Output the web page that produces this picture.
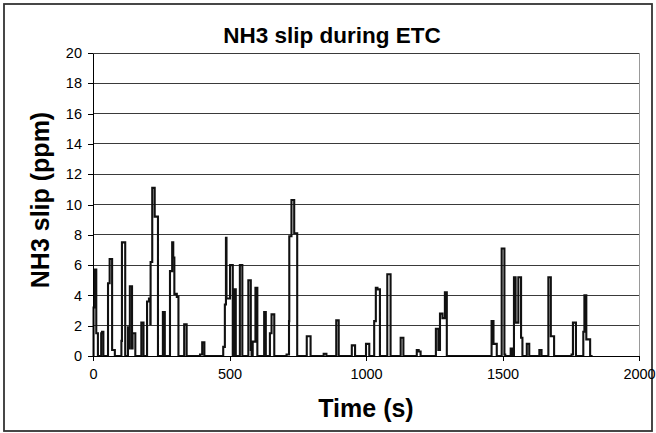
<!DOCTYPE html>
<html>
<head>
<meta charset="utf-8">
<script src="https://cdn.jsdelivr.net/npm/d3@7"></script>
<style>
body { margin: 0; background: #fff; }
text { font-family: "Liberation Sans", Arial, sans-serif; }
</style>
</head>
<body>
<div id="chart"></div>
<script>
// data (time in s, NH3 slip in ppm)
var time = [0, 2, 5, 12, 18, 30, 33, 38, 55, 61, 70, 80, 104, 106, 118,
    128, 133, 135, 143, 145, 155, 177, 185, 198, 205, 210, 211, 217, 226, 238,
    256, 263, 282, 290, 294, 298, 307, 313, 334, 343, 392, 400, 408,
    477, 483, 487, 489, 502, 512, 516, 523, 538, 547, 569, 578, 581,
    585, 595, 602, 627, 633, 648, 654, 664, 709, 718, 719, 727, 737, 748,
    783, 797, 845, 855, 891, 900, 948, 960, 1000, 1012,
    1030, 1036, 1042, 1051, 1078, 1090, 1127, 1137, 1186, 1193, 1200,
    1256, 1265, 1271, 1280, 1289, 1296, 1460, 1467, 1479, 1497, 1507, 1510,
    1530, 1537, 1542, 1548, 1558, 1568, 1573, 1589, 1598, 1635, 1643,
    1668, 1677, 1689, 1753, 1758, 1769, 1796, 1800, 1807, 1821, 1830];

var slip = [0, 3.2, 5.7, 1.5, 0, 1.5, 1.6, 0, 4.8, 6.4, 0.4, 0, 1.0, 7.5, 0,
    1.9, 0.5, 4.6, 0.5, 1.5, 0, 2.2, 0, 3.6, 3.8, 2.1, 6.2, 11.1, 9.2, 0,
    2.9, 0, 5.6, 7.5, 6.5, 4.1, 3.9, 0, 2.1, 0, 0.1, 0.9, 0,
    0.6, 3.4, 7.8, 3.8, 6.0, 0, 4.4, 0, 6.0, 0, 5.0, 0.4, 0,
    0.95, 4.5, 0, 2.9, 0, 1.5, 2.75, 0, 0.1, 2.3, 7.9, 10.3, 8.1, 0,
    1.3, 0, 0.15, 0, 2.35, 0, 0.7, 0, 0.8, 0,
    2.3, 4.5, 4.4, 0, 5.4, 0, 1.2, 0, 0.4, 0.3, 0,
    1.8, 0.4, 2.8, 2.5, 4.2, 0, 2.3, 0.8, 0, 7.1, 0.1, 0,
    0.5, 0, 5.2, 2.2, 5.2, 1.2, 0, 0.8, 0, 0.4, 0,
    5.2, 1.3, 0, 0.1, 2.2, 0, 1.6, 4.0, 1.1, 0, 0];

var xTicks = [0, 500, 1000, 1500, 2000];
var yTicks = [0, 2, 4, 6, 8, 10, 12, 14, 16, 18, 20];

var width = 656;
var height = 433;

var plotLeft = 93;
var plotRight = 639;
var plotTop = 53;
var plotBottom = 356;

var svg = d3
    .select("#chart")
    .append("svg")
    .attr("width", width)
    .attr("height", height);

// outer chart frame
svg
    .append("rect")
    .attr("x", 4)
    .attr("y", 4)
    .attr("width", 648)
    .attr("height", 427)
    .attr("fill", "#fff")
    .attr("stroke", "#333")
    .attr("stroke-width", 1.8);

var xScale = d3
    .scaleLinear()
    .domain([0, 2000])
    .range([plotLeft, plotRight]);

var yScale = d3
    .scaleLinear()
    .domain([0, 20])
    .range([plotBottom, plotTop]);

// gridlines
svg
    .append("g")
    .selectAll("line")
    .data(yTicks.slice(1))
    .enter()
    .append("line")
    .attr("x1", plotLeft)
    .attr("x2", plotRight)
    .attr("y1", function(d) { return yScale(d); })
    .attr("y2", function(d) { return yScale(d); })
    .attr("stroke", "#3a3a3a")
    .attr("stroke-width", 1)
    .attr("shape-rendering", "crispEdges");

// right side of the plot area
svg
    .append("line")
    .attr("x1", plotRight)
    .attr("x2", plotRight)
    .attr("y1", plotTop)
    .attr("y2", plotBottom)
    .attr("stroke", "#999")
    .attr("shape-rendering", "crispEdges");

// the series
var points = time.map(function(t, i) {
    return [t, slip[i]];
});

var line = d3
    .line()
    .x(function(d) { return xScale(d[0]); })
    .y(function(d) { return yScale(d[1]); })
    .curve(d3.curveStepAfter);

svg
    .append("path")
    .datum(points)
    .attr("d", line)
    .attr("fill", "none")
    .attr("stroke", "#111")
    .attr("stroke-width", 2.1);

// axes
var xAxis = d3
    .axisBottom(xScale)
    .tickValues(xTicks)
    .tickFormat(d3.format("d"))
    .tickSize(5)
    .tickSizeOuter(0)
    .tickPadding(8);

var yAxis = d3
    .axisLeft(yScale)
    .tickValues(yTicks)
    .tickFormat(d3.format("d"))
    .tickSize(5)
    .tickSizeOuter(0)
    .tickPadding(6);

svg
    .append("g")
    .attr("class", "xAxis")
    .attr("transform", "translate(0," + plotBottom + ")")
    .call(xAxis);

svg
    .append("g")
    .attr("class", "yAxis")
    .attr("transform", "translate(" + plotLeft + ",0)")
    .call(yAxis);

svg.selectAll(".xAxis path, .yAxis path, .xAxis line, .yAxis line")
    .attr("stroke", "#000")
    .attr("shape-rendering", "crispEdges");

svg.selectAll(".xAxis text, .yAxis text")
    .attr("font-family", "Liberation Sans, Arial, sans-serif")
    .attr("font-size", 14.5)
    .attr("fill", "#000");

// titles
svg
    .append("text")
    .attr("x", 332)
    .attr("y", 43)
    .attr("text-anchor", "middle")
    .attr("font-size", 22.5)
    .attr("font-weight", "bold")
    .text("NH3 slip during ETC");

svg
    .append("text")
    .attr("x", 366)
    .attr("y", 417)
    .attr("text-anchor", "middle")
    .attr("font-size", 25)
    .attr("font-weight", "bold")
    .text("Time (s)");

svg
    .append("text")
    .attr("transform", "translate(49,200)rotate(-90)")
    .attr("text-anchor", "middle")
    .attr("font-size", 25)
    .attr("font-weight", "bold")
    .text("NH3 slip (ppm)");
</script>
</body>
</html>
